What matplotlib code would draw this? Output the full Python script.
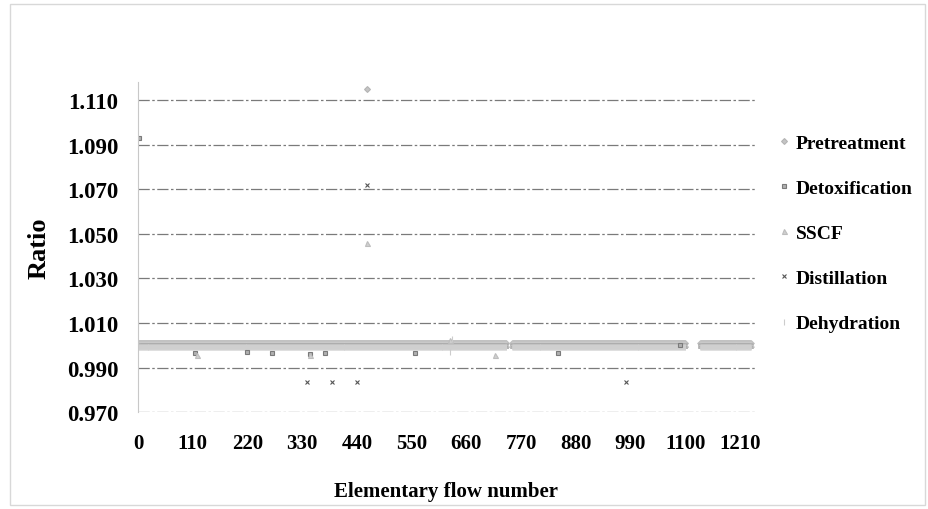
import numpy as np
import matplotlib
matplotlib.use("Agg")
import matplotlib.pyplot as plt
from matplotlib.patches import Rectangle

plt.rcParams['font.family'] = ['Liberation Serif', 'DejaVu Serif']

# elementary flows plotted (gaps)
flow_segments = [(1, 740), (752, 1100), (1130, 1232)]

series_names = ["Pretreatment", "Detoxification", "SSCF", "Distillation", "Dehydration"]
# ratio level of the dense band for each stage
band_levels = [1.0009, 0.9998, 1.0004, 1.0000, 0.9993]

# flows that stand out from the band
pre_out_x = [460]
pre_out_y = [1.115]
detox_out_x = [2, 115, 219, 269, 346, 376, 557, 844, 1089]
detox_out_y = [1.093, 0.9965, 0.9968, 0.9965, 0.9962, 0.9965, 0.9965, 0.9965, 1.0003]
sscf_out_x = [460, 118, 345, 627, 718]
sscf_out_y = [1.046, 0.9955, 0.9955, 1.0025, 0.9958]
dist_out_x = [340, 390, 440, 980, 460]
dist_out_y = [0.9835, 0.9835, 0.9835, 0.9835, 1.072]
dehy_out_x = [627, 632]
dehy_out_y = [0.997, 1.003]

outliers = [(pre_out_x, pre_out_y), (detox_out_x, detox_out_y), (sscf_out_x, sscf_out_y),
            (dist_out_x, dist_out_y), (dehy_out_x, dehy_out_y)]

styles = [
    dict(marker="D", color="#c4c4c4", ms=3.0, mec="#b4b4b4"),
    dict(marker="s", color="#b0b0b0", ms=3.4, mec="#7a7a7a"),
    dict(marker="^", color="#cfcfcf", ms=3.6, mec="#bdbdbd"),
    dict(marker="x", color="#555555", ms=3.4, mec="#555555"),
    dict(marker="|", color="#d4d4d4", ms=4.5, mec="#cccccc"),
]
band_colors = ["#c2c2c2", "#b4b4b4", "#cbcbcb", "#adadad", "#d0d0d0"]

flows = np.concatenate([np.arange(a, b + 1) for a, b in flow_segments])

fig = plt.figure(figsize=(9.29, 5.10), dpi=100)
fig.patches.append(Rectangle((0.011, 0.008), 0.985, 0.982, transform=fig.transFigure,
                             fill=False, ec="#d8d8d8", lw=1.0))
ax = fig.add_axes([0.1486, 0.190, 0.664, 0.647])

# dense band of flows with ratio close to one
for level, st, bc in zip(band_levels, styles, band_colors):
    ax.plot(flows, np.full(len(flows), level), linestyle="none", marker=st["marker"],
            ms=st["ms"], color=bc, mec=bc, mew=0.6)

for name, (ox, oy), st in zip(series_names, outliers, styles):
    ax.plot(ox, oy, linestyle="none", marker=st["marker"], ms=st["ms"], color=st["color"],
            mec=st["mec"], mew=0.8, label=name)

ax.set_xlim(0, 1240)
ax.set_ylim(0.970, 1.118)
ax.set_xticks(np.arange(0, 1211, 110))
yt = np.arange(0.970, 1.111, 0.02)
ax.set_yticks(yt)
ax.set_yticklabels([f"{v:.3f}" for v in yt])
ax.tick_params(axis="x", length=0, labelsize=15, pad=15)
ax.tick_params(axis="y", length=0, labelsize=16.5, pad=14)
for lab in ax.get_xticklabels() + ax.get_yticklabels():
    lab.set_fontweight("bold")

ax.yaxis.grid(True, color="#7a7a7a", lw=0.9, linestyle=(0, (9, 2, 2, 2)))
ax.set_axisbelow(True)
for s in ["top", "right", "bottom"]:
    ax.spines[s].set_visible(False)
ax.spines["left"].set_color("#c8c8c8")

ax.set_ylabel("Ratio", fontsize=19, fontweight="bold", labelpad=12)
ax.set_xlabel("Elementary flow number", fontsize=15, fontweight="bold", labelpad=20)

leg = ax.legend(loc="upper left", bbox_to_anchor=(1.003, 0.894), frameon=False,
                prop={"weight": "bold", "size": 14}, handletextpad=0.1, labelspacing=1.41,
                handlelength=1.0)

fig.savefig("out.png", dpi=100)
